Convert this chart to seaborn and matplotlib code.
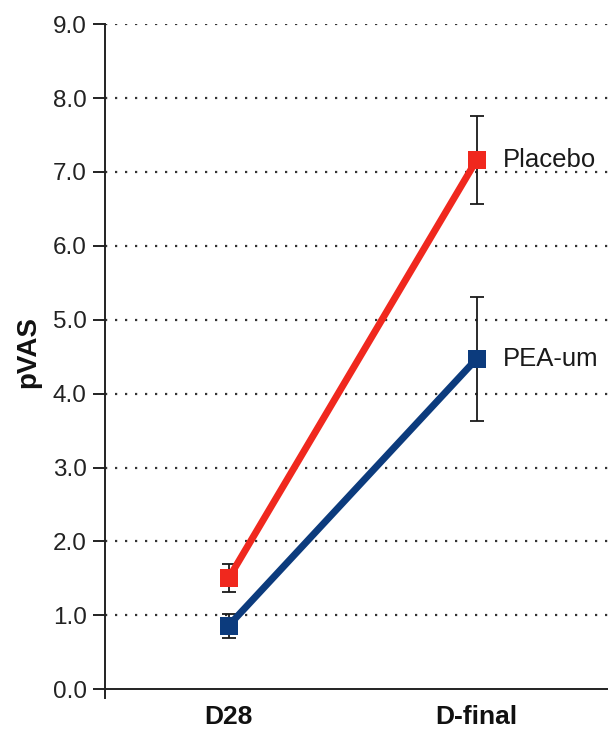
import matplotlib
matplotlib.use("Agg")
import matplotlib.pyplot as plt
import numpy as np
import pandas as pd
import seaborn as sns

timepoints = ["D28", "D-final"]
groups = ["Placebo", "PEA-um"]
placebo_mean = [1.50, 7.16]
placebo_err = [0.19, 0.59]
pea_mean = [0.86, 4.47]
pea_err = [0.16, 0.84]
y_ticks = [0, 1, 2, 3, 4, 5, 6, 7, 8, 9]

colours = {"Placebo": "#f0281e", "PEA-um": "#0c3b7d"}

df = pd.DataFrame({
    "x": [0, 1, 0, 1],
    "pVAS": placebo_mean + pea_mean,
    "err": placebo_err + pea_err,
    "group": [groups[0]] * 2 + [groups[1]] * 2,
})

sns.set_style("white")
plt.rcParams["font.family"] = ["Liberation Sans", "DejaVu Sans"]

fig = plt.figure(figsize=(6.08, 7.31), dpi=100)
ax = fig.add_axes([0.172, 0.045, 0.828, 0.922])

for g in groups:
    sub = df[df["group"] == g]
    ax.errorbar(sub["x"], sub["pVAS"], yerr=sub["err"], fmt="none",
                ecolor="#1a1a1a", elinewidth=1.3, capsize=5, capthick=1.3, zorder=3)

sns.lineplot(data=df, x="x", y="pVAS", hue="group", palette=colours,
             marker="s", markersize=12.5, markeredgewidth=0, linewidth=5,
             legend=False, ax=ax)
for line in ax.lines:
    line.set_zorder(4)

for g, means in zip(groups, [placebo_mean, pea_mean]):
    ax.text(1.105, means[1], g, fontsize=18.5, va="center", ha="left", color="#1a1a1a")

ax.set_xlim(-0.5, 1.53)
ax.set_ylim(-0.12, 9.0)

for v in y_ticks[1:]:
    ax.axhline(v, color="#333333", linestyle=(0, (1, 3.5)), linewidth=1.6, zorder=1)

ax.spines["bottom"].set_position(("data", 0))
ax.spines["bottom"].set_linewidth(1.4)
ax.spines["bottom"].set_color("#222222")
ax.spines["left"].set_linewidth(1.4)
ax.spines["left"].set_color("#222222")
ax.spines["top"].set_visible(False)
ax.spines["right"].set_visible(False)
ax.tick_params(axis="y", direction="out", length=9, width=1.4, left=True, pad=4,
               colors="#222222", labelsize=17.5)
ax.tick_params(axis="x", length=0, pad=11, labelsize=19)

ax.set_yticks(y_ticks)
ax.set_yticklabels([f"{v:.1f}" for v in y_ticks])
ax.set_xticks([0, 1])
ax.set_xticklabels(timepoints)
for lab in ax.get_xticklabels():
    lab.set_fontweight("bold")
    lab.set_fontsize(19)
    lab.set_color("#111111")
ax.set_xlabel("")
ax.set_ylabel("pVAS", fontsize=20, fontweight="bold", color="#111111")
ax.yaxis.set_label_coords(-0.125, 0.513)

fig.savefig("out.png", dpi=100)
